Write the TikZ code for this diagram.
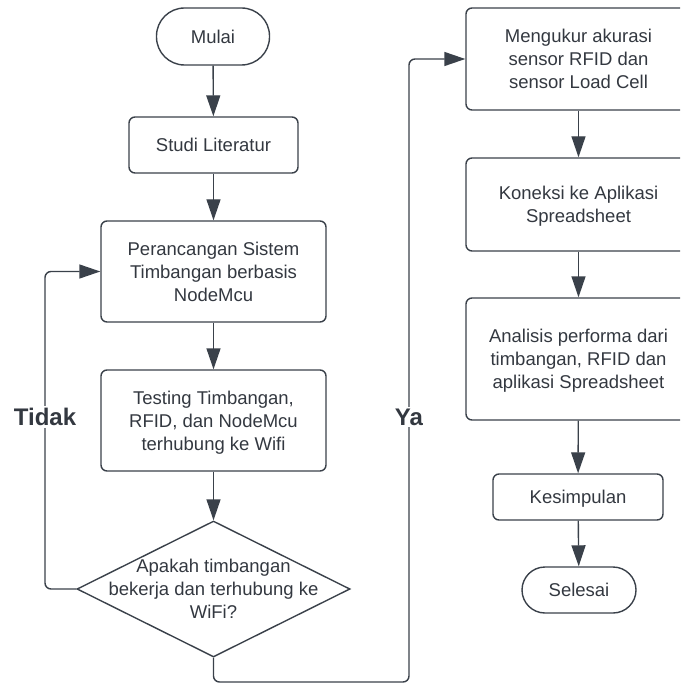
\documentclass[tikz,border=0pt]{standalone}
\usepackage{fontspec}
\setmainfont{Liberation Sans}
\usetikzlibrary{arrows.meta,shapes.geometric}

\definecolor{garis}{HTML}{3A414A}
\definecolor{teks}{HTML}{333840}

\begin{document}
\begin{tikzpicture}[x=1pt,y=-1pt,
    every node/.style={text=teks,font=\fontsize{18.5}{23}\selectfont,align=center,text depth=0pt},
    terminal/.style={draw=garis,line width=1.4pt,rectangle,rounded corners=23pt,
        minimum width=114pt,minimum height=46pt,inner sep=0pt},
    proses/.style={draw=garis,line width=1.4pt,rectangle,rounded corners=6pt,
        minimum width=225pt,inner sep=0pt},
    keputusan/.style={draw=garis,line width=1.4pt,diamond,
        minimum width=273pt,minimum height=136pt,inner sep=0pt},
    panah/.style={draw=garis,line width=1.4pt,-{Triangle[length=21pt,width=14pt]}},
    jawab/.style={fill=white,inner sep=2pt,font=\bfseries\fontsize{24}{28}\selectfont}]

    % page frame: the right column runs past the edge
    \clip (0,0) rectangle (680,684);

    % left column
    \node[terminal,minimum width=113pt,minimum height=57pt,rounded corners=28pt] (mulai) at (213,36.5) {Mulai};
    \node[proses,minimum width=169pt,minimum height=56pt] (studi) at (213.5,145) {Studi Literatur};
    \node[proses,minimum height=101pt] (rancang) at (213.5,271.5) {Perancangan Sistem\\Timbangan berbasis\\NodeMcu};
    \node[proses,minimum height=101pt] (testing) at (213.5,420.5) {Testing Timbangan,\\RFID, dan NodeMcu\\terhubung ke Wifi};
    \node[keputusan] (cek) at (213.5,589) {};
    \node (cekteks) at (cek) {Apakah timbangan\\bekerja dan terhubung ke\\WiFi?};

    % right column
    \node[proses,minimum height=102pt] (ukur) at (578.5,59) {Mengukur akurasi\\sensor RFID dan\\sensor Load Cell};
    \node[proses,minimum height=93pt] (koneksi) at (578.5,204.5) {Koneksi ke Aplikasi\\Spreadsheet};
    \node[proses,minimum height=122pt] (analisis) at (578.5,359) {Analisis performa dari\\timbangan, RFID dan\\aplikasi Spreadsheet};
    \node[proses,minimum width=170pt,minimum height=46pt] (simpul) at (578,497) {Kesimpulan};
    \node[terminal] (selesai) at (579,590) {Selesai};

    % arrows
    \draw[panah] (mulai) -- (studi);
    \draw[panah] (studi) -- (rancang);
    \draw[panah] (rancang) -- (testing);
    \draw[panah] (testing) -- (cek);
    \draw[panah] (ukur) -- (koneksi);
    \draw[panah] (koneksi) -- (analisis);
    \draw[panah] (analisis) -- (simpul);
    \draw[panah] (simpul) -- (selesai);

    % loops
    \coordinate (kiri) at (45,589);
    \coordinate (bawah) at (409,682);
    \draw[panah,rounded corners=6pt] (cek.west) -- (kiri) |- (rancang.west);
    \draw[panah,rounded corners=6pt] (cek.south) |- (bawah) |- (ukur.west);

    \node[jawab] (tidak) at (45,417) {Tidak};
    \node[jawab] (ya) at (409,417) {Ya};
\end{tikzpicture}
\end{document}
